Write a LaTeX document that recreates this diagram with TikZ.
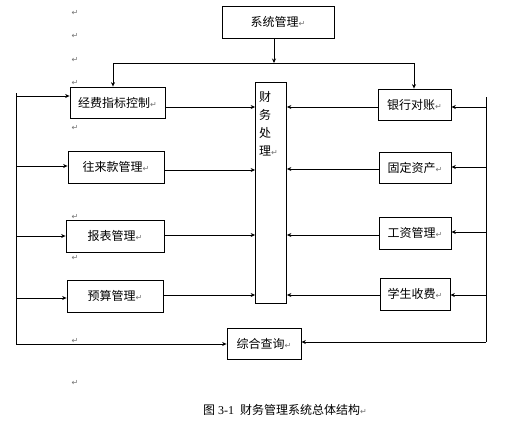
\documentclass[tikz,border=0pt]{standalone}
\usepackage{fontspec}
\setmainfont{Liberation Serif}
\newfontfamily\cjk{Noto Sans CJK SC}
\newfontfamily\symf{DejaVu Sans}
\usetikzlibrary{arrows.meta,calc}
\newcommand\rmk{{\symf\fontsize{8}{8}\selectfont\color{black!55}↵}}
\begin{document}
\begin{tikzpicture}[x=1pt,y=-1pt,
  box/.style={draw, line width=0.8pt, rectangle, inner sep=0pt, font=\cjk\fontsize{12}{14}\selectfont},
  arr/.style={-{Stealth[length=4.5pt,width=4pt]}, line width=0.7pt},
  ln/.style={line width=0.7pt},
  pmark/.style={inner sep=0pt}]
\useasboundingbox (0,0) rectangle (507,424);
\fill[white] (0,0) rectangle (507,424);
% boxes
\node[box, minimum width=112pt, minimum height=32pt] (sys) at (278,22) {系统管理\rmk};
\node[box, minimum width=95pt, minimum height=31pt] (jf) at (117.5,102.5) {经费指标控制\rmk};
\node[box, minimum width=96pt, minimum height=32pt] (wl) at (116,167) {往来款管理\rmk};
\node[box, minimum width=98pt, minimum height=32pt] (bb) at (115,236) {报表管理\rmk};
\node[box, minimum width=96pt, minimum height=32pt] (ys) at (115,296) {预算管理\rmk};
\node[box, minimum width=31pt, minimum height=221pt] (cw) at (271,192.5) {};
\node[pmark, anchor=north west, align=left, font=\cjk\fontsize{12}{18}\selectfont] (cwt) at (259,91) {财\\务\\处\\理\rmk};
\node[box, minimum width=73pt, minimum height=31pt] (yh) at (414.5,104.5) {银行对账\rmk};
\node[box, minimum width=72pt, minimum height=31pt] (gd) at (415,167.5) {固定资产\rmk};
\node[box, minimum width=72pt, minimum height=32pt] (gz) at (415,233) {工资管理\rmk};
\node[box, minimum width=70pt, minimum height=32pt] (xs) at (415,294) {学生收费\rmk};
\node[box, minimum width=74pt, minimum height=31pt] (zh) at (264,343.5) {综合查询\rmk};
% paragraph marks
\node[pmark] (m1) at (75,13) {\rmk};
\node[pmark] (m2) at (75,36) {\rmk};
\node[pmark] (m3) at (75,60) {\rmk};
\node[pmark] (m4) at (75,83) {\rmk};
\node[pmark] (m5) at (75,128) {\rmk};
\node[pmark] (m6) at (75,217) {\rmk};
\node[pmark] (m7) at (75,258) {\rmk};
\node[pmark] (m8) at (75,341) {\rmk};
\node[pmark] (m9) at (75,383) {\rmk};
% caption
\node[pmark, anchor=west, font=\fontsize{12}{14}\selectfont] (cap) at (203,410) {{\cjk 图}\hspace{3pt}3-1\hspace{6pt}{\cjk 财务管理系统总体结构}\rmk};
% top distribution
\coordinate (t0) at (274,63);
\coordinate (tl) at (113,63);
\coordinate (tr) at (414,63);
\draw[arr] (t0 |- sys.south) -- (t0);
\draw[ln] (tl) -- (tr);
\draw[arr] (tl) -- (tl |- jf.north);
\draw[arr] (tr) -- (tr |- yh.north);
% left bus
\coordinate (ltop) at (16,93);
\coordinate (lbot) at (16,344);
\draw[ln] (ltop) -- (lbot);
\coordinate (la1) at (16,96);
\coordinate (la2) at (16,166);
\coordinate (la3) at (16,236);
\coordinate (la4) at (16,298);
\draw[arr] (la1) -- (la1 -| jf.west);
\draw[arr] (la2) -- (la2 -| wl.west);
\draw[arr] (la3) -- (la3 -| bb.west);
\draw[arr] (la4) -- (la4 -| ys.west);
\draw[arr] (lbot) -- (lbot -| zh.west);
% left boxes to cw
\coordinate (lb1) at (200,107);
\coordinate (lb2) at (200,170);
\coordinate (lb3) at (200,235);
\coordinate (lb4) at (200,295);
\draw[arr] (lb1 -| jf.east) -- (lb1 -| cw.west);
\draw[arr] (lb2 -| wl.east) -- (lb2 -| cw.west);
\draw[arr] (lb3 -| bb.east) -- (lb3 -| cw.west);
\draw[arr] (lb4 -| ys.east) -- (lb4 -| cw.west);
% right bus
\coordinate (rtop) at (486,97);
\coordinate (rbot) at (486,342);
\draw[ln] (rtop) -- (rbot);
\coordinate (ra1) at (486,107);
\coordinate (ra2) at (486,167);
\coordinate (ra3) at (486,232);
\coordinate (ra4) at (486,295);
\draw[arr] (ra1) -- (ra1 -| yh.east);
\draw[arr] (ra2) -- (ra2 -| gd.east);
\draw[arr] (ra3) -- (ra3 -| gz.east);
\draw[arr] (ra4) -- (ra4 -| xs.east);
\draw[arr] (rbot) -- (rbot -| zh.east);
% right boxes to cw
\coordinate (rb1) at (330,107);
\coordinate (rb2) at (330,169);
\coordinate (rb3) at (330,235);
\coordinate (rb4) at (330,295);
\draw[arr] (rb1 -| yh.west) -- (rb1 -| cw.east);
\draw[arr] (rb2 -| gd.west) -- (rb2 -| cw.east);
\draw[arr] (rb3 -| gz.west) -- (rb3 -| cw.east);
\draw[arr] (rb4 -| xs.west) -- (rb4 -| cw.east);
\end{tikzpicture}
\end{document}
